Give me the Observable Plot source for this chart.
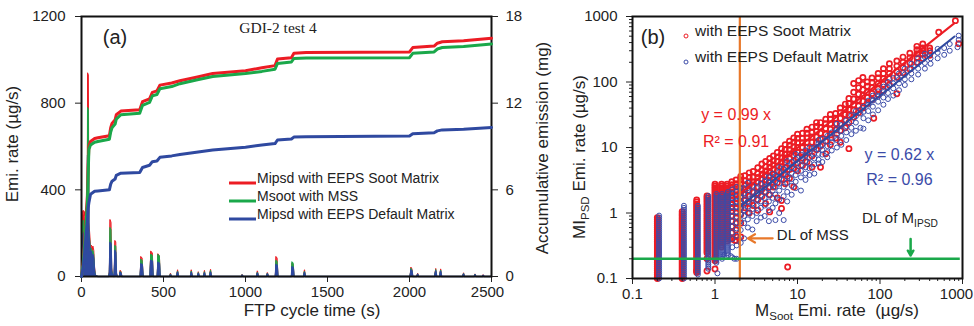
<!DOCTYPE html>
<html><head><meta charset="utf-8">
<script src="https://cdn.jsdelivr.net/npm/d3@7"></script>
<script src="https://cdn.jsdelivr.net/npm/@observablehq/plot@0.6"></script>
<style>
body{margin:0;background:#fff;}
#wrap{position:relative;width:974px;height:326px;overflow:hidden;background:#fff;}
#wrap svg{position:absolute;top:0;overflow:visible;background:transparent;}
</style></head><body><div id="wrap"></div>
<script>
// ---------------- Panel (a) data ----------------
const timeTicks = [0, 500, 1000, 1500, 2000, 2500];
const rateTicks = [0, 400, 800, 1200];
const cumTicks = [0, 6, 12, 18];
const seriesNames = ["Mipsd with EEPS Soot Matrix", "Msoot with MSS", "Mipsd with EEPS Default Matrix"];
// [time s, Mipsd soot matrix, Msoot MSS, Mipsd default matrix] in µg/s
const rateRows = [
  [0,0,0,0],[2,60,40,30],[5,240,200,150],[8,300,250,180],[12,305,260,200],[16,280,230,190],
  [20,300,240,210],[24,260,220,180],[28,290,250,230],[32,200,170,150],[35,120,100,60],
  [37,940,780,560],[42,930,770,555],[45,250,220,200],[50,200,170,140],[55,140,120,110],
  [60,145,130,115],[65,130,110,90],[70,140,120,100],[75,120,100,80],[80,40,30,20],[85,10,8,5],[90,5,4,3],[100,0,0,0],
  [165,0,0,0],[170,20,15,10],[174,263,226,157],[180,250,215,150],[184,40,30,20],[190,10,8,6],[198,0,0,0],
  [200,20,15,10],[204,166,143,120],[209,160,140,110],[213,20,15,10],[218,0,0,0],
  [232,0,0,0],[236,28,22,18],[241,25,20,15],[246,0,0,0],
  [358,0,0,0],[362,92,80,58],[370,85,75,55],[376,0,0,0],
  [418,0,0,0],[422,117,102,74],[432,110,98,70],[437,0,0,0],
  [462,0,0,0],[466,105,102,66],[475,95,95,60],[480,0,0,0],
  [538,0,0,0],[543,15,12,8],[548,0,0,0],
  [580,0,0,0],[586,31,25,20],[592,0,0,0],
  [664,0,0,0],[670,31,25,18],[676,0,0,0],
  [708,0,0,0],[713,22,18,14],[718,0,0,0],
  [745,0,0,0],[750,28,22,16],[755,0,0,0],
  [781,0,0,0],[787,33,28,20],[793,0,0,0],
  [975,0,0,0],[980,9,8,6],[985,0,0,0],
  [1067,0,0,0],[1073,26,20,15],[1079,0,0,0],
  [1128,0,0,0],[1134,18,15,12],[1140,0,0,0],
  [1182,0,0,0],[1186,92,74,55],[1193,85,70,50],[1198,0,0,0],
  [1280,0,0,0],[1284,62,68,45],[1291,55,62,40],[1296,0,0,0],
  [1354,0,0,0],[1360,31,24,18],[1366,0,0,0],
  [2004,0,0,0],[2009,43,38,30],[2015,35,30,25],[2020,0,0,0],
  [2045,0,0,0],[2050,15,12,10],[2055,0,0,0],
  [2154,0,0,0],[2160,37,32,25],[2166,0,0,0],
  [2184,0,0,0],[2190,35,30,24],[2196,0,0,0],
  [2325,0,0,0],[2330,17,14,11],[2335,0,0,0],
  [2395,0,0,0],[2400,12,10,8],[2405,0,0,0],
  [2445,0,0,0],[2450,8,6,5],[2455,0,0,0],[2500,0,0,0]
];
// [time s, cumulative soot-matrix, MSS, default-matrix] in mg
const cumRows = [
  [0,0,0,0],[10,0.9,0.8,0.6],[20,2.6,2.3,1.7],[30,4.6,4.1,3.1],[36,5.6,5.1,3.8],[40,7.5,6.8,4.7],
  [45,9.0,8.8,5.1],[55,9.35,9.1,5.7],[80,9.55,9.3,5.9],[100,9.6,9.35,5.92],[170,9.75,9.5,6.0],
  [178,10.3,10.0,6.4],[186,10.6,10.3,6.6],[205,10.85,10.55,6.75],[212,11.2,10.9,7.0],[240,11.45,11.2,7.15],
  [355,11.55,11.3,7.2],[372,12.1,11.85,7.55],[415,12.3,12.05,7.7],[432,12.75,12.5,7.95],[460,12.85,12.6,8.0],
  [478,13.25,13.0,8.25],[550,13.4,13.15,8.35],[600,13.55,13.35,8.45],[700,13.8,13.6,8.6],[800,14.05,13.85,8.75],
  [1000,14.25,14.05,8.95],[1100,14.45,14.2,9.1],[1180,14.6,14.35,9.2],[1195,15.05,14.75,9.45],[1280,15.15,14.85,9.52],
  [1295,15.45,15.1,9.65],[1370,15.5,15.12,9.68],[2000,15.55,15.15,9.72],[2020,15.85,15.45,9.88],[2150,15.95,15.55,9.95],
  [2170,16.15,15.75,10.08],[2200,16.25,15.85,10.15],[2330,16.32,15.92,10.2],[2500,16.5,16.1,10.32]
];

// ---------------- Panel (b) data ----------------
const logTicks = [0.1, 1, 10, 100, 1000];
const stripeLevels = [0.100,0.107,0.115,0.123,0.132,0.141,0.151,0.162,0.174,0.186,0.200,0.214,0.229,0.245,0.263,0.282,0.302,0.324,0.347,0.372,0.398,0.427,0.457,0.490,0.525,0.562,0.603,0.646,0.692,0.741,0.794,0.851,0.912,0.977,1.05,1.12,1.20,1.29,1.38,1.48,1.58,1.70,1.82,1.95,2.09,2.24,2.40,2.57,2.75,2.95];
// dense vertical columns of quantized MSS values: [x, lowest y, highest y]
const sootStripes = [[0.2,0.1,0.87],[0.4,0.1,1.07],[0.6,0.12,1.67],[0.8,0.24,1.93],[1.0,0.18,2.8],[1.2,0.3,2.8],[1.4,0.35,2.9]];
const defStripes = [[0.21,0.1,0.97],[0.42,0.1,1.35],[0.62,0.11,1.3],[0.83,0.14,1.82],[1.04,0.17,2.0],[1.22,0.2,2.0],[1.43,0.22,2.1]];
const sootExtra = [[0.8,[0.13,0.2]],[0.6,[0.13]],[1.0,[0.14]]];
const sootCloud = [
  [1.6,[0.4,0.5,0.62,0.75,0.9,1.05,1.2,1.4,1.6,1.85,2.1,2.4,2.7,3.0]],
  [1.8,[0.38,0.55,0.7,0.85,1.0,1.2,1.4,1.65,1.9,2.2,2.5,2.8,3.2]],
  [2.05,[0.43,0.7,0.95,1.2,1.5,1.8,2.1,2.4,2.8,3.2,3.6]],
  [1.5,[0.4]],[1.75,[0.38]],[1.86,[0.43]],
  [2.3,[1.2,1.55,1.9,2.3,2.7,3.1,3.7]],
  [2.6,[1.0,1.4,1.8,2.2,2.6,3.0,3.5,4.1]],
  [2.9,[1.3,1.7,2.1,2.5,3.0,3.5,4.3]],
  [3.3,[1.1,1.6,2.0,2.5,3.0,3.5,4.0,4.9]],
  [3.7,[1.8,2.3,2.8,3.3,3.9,4.5,5.6]],
  [4.1,[1.4,2.1,2.7,3.2,3.8,4.4,5.1,6.1]],
  [4.6,[1.04,1.9,2.5,3.1,3.7,4.3,5.0,5.8,6.8]],
  [5.1,[2.5,3.2,3.9,4.6,5.4,6.3,7.4]],
  [5.7,[1.7,2.9,3.6,4.4,5.2,6.1,7.2,8.4]],
  [6.4,[1.17,1.55,3.3,4.2,5.1,6.0,7.0,8.2,9.6]],
  [7.1,[2.8,3.9,4.9,5.9,6.9,8.0,9.3,11]],
  [7.6,[0.15]],
  [8.0,[3.4,4.6,5.7,6.8,8.0,9.3,10.8,12.5]],
  [9.0,[2.5,4.8,6.2,7.5,8.8,10.3,12,14]],
  [10,[4.4,5.8,7.1,8.5,10,11.8,13.8,16]],
  [11.5,[5.3,6.9,8.5,10,11.8,13.8,16.5]],
  [13,[6.0,8.2,10,12,14,16.5,19]],
  [15,[5.0,7.4,9.8,12,14.5,17,20.5]],
  [17,[9.2,11.8,14.5,17.5,21,24]],
  [19,[5.0,10.5,13.5,16.5,20,24]],
  [22,[8.0,12.5,16,19.5,23,27]],
  [25,[11,15.5,19,23,27,32]],
  [29,[14,18.5,23,28,33]],
  [33,[12,18,23,28,34,40]],
  [38,[20,26,32,38,46]],
  [42,[9.6,24,31,38,47,56]],
  [48,[29,37,45,55,70,95]],
  [55,[34,43,53,65,82,105]],
  [62,[40,51,62,76,92,117]],
  [70,[47,58,70,86,100]],
  [80,[54,67,82,98,115]],
  [84,[28]],
  [95,[64,78,95,115,135]],
  [110,[74,92,112,135,160]],
  [130,[90,112,135,160,190]],
  [160,[66,118,145,175,210]],
  [190,[138,165,200,240]],
  [230,[158,195,235,275]],
  [280,[198,235,270,310,350]],
  [330,[228,265,300,330,380]],
  [400,[255,300,330]],
  [515,[575]],[820,[865]],[900,[385]]
];
const defCloud = [
  [1.62,[0.21,0.3,0.4,0.5,0.62,0.75,0.9,1.05,1.25,1.45,1.7,2.0,2.3]],
  [1.83,[0.2,0.32,0.45,0.58,0.72,0.88,1.05,1.25,1.5,1.8,2.1,2.5]],
  [1.3,[0.23]],[1.55,[0.22]],[1.72,[0.2]],[1.07,[0.12]],
  [2.05,[0.35,0.55,0.75,0.95,1.15,1.4,1.7,2.0,2.4]],
  [2.25,[0.41,0.7,0.9,1.1,1.35,1.6,2.0,2.4]],
  [2.5,[0.6,0.8,1.0,1.25,1.5,1.9,2.4,2.9]],
  [2.84,[0.56,0.9,1.15,1.4,1.7,2.1,2.6]],
  [3.2,[0.75,1.0,1.3,1.6,1.95,2.4,2.9]],
  [3.6,[0.85,1.2,1.5,1.85,2.2,2.8]],
  [4.0,[0.9,1.3,1.7,2.1,2.5,3.0,3.6]],
  [4.5,[0.75,1.1,1.5,1.9,2.4,2.9,3.5]],
  [5.0,[1.2,1.7,2.2,2.7,3.3,4.0]],
  [5.4,[0.78,1.4,1.9,2.5,3.0,3.7]],
  [6.0,[1.0,1.6,2.2,2.8,3.4,4.2,5.0]],
  [6.8,[0.78,1.8,2.5,3.2,3.9,4.7]],
  [7.5,[1.5,2.1,2.9,3.6,4.4,5.2,6.2]],
  [8.5,[1.9,2.6,3.3,4.1,5.0,6.0]],
  [9.5,[2.4,3.0,3.8,4.6,5.6,6.7,8.0]],
  [11,[2.2,3.5,4.4,5.3,6.5,7.8]],
  [12.5,[3.2,4.0,5.0,6.2,7.5,9.0]],
  [14,[3.8,4.8,5.8,7.0,8.5,10]],
  [16,[4.0,5.5,6.8,8.2,10]],
  [18,[5.7,6.5,8.0,9.5,11.5,13]],
  [20,[6.0,7.8,9.2,11,13.5]],
  [23,[7.1,8.5,10.5,12.5,15]],
  [26,[9.0,12,14,17]],
  [30,[10,13,16,19,23]],
  [34,[11,15,18,22]],
  [39,[13,17,21,26]],
  [45,[16,20,25,31]],
  [51,[18,24,30,36]],
  [58,[20,33,38]],
  [63,[19.4,28,35,42]],
  [72,[26,36,45,52]],
  [82,[32,42,52,62]],
  [95,[37,50,60,72]],
  [110,[45,58,70,85]],
  [125,[55,68,82,100]],
  [145,[62,80,95,115]],
  [170,[75,95,110,135]],
  [200,[90,110,130,160]],
  [240,[110,135,160,190]],
  [290,[130,160,195,230]],
  [350,[160,195,240,270]],
  [410,[190,230,280]],
  [500,[230,280,320]],
  [600,[260,330]],
  [700,[300,380]],
  [870,[340]],
  [900,[440,510]]
];
const fitSlopes = [0.99, 0.62];
const fitRange = [[1.9, 800], [2.0, 800]];
const fitText = ["y = 0.99 x", "R² = 0.91", "y = 0.62 x", "R² = 0.96"];
const fitTextX = [1.8, 1.8, 172, 172];
const fitTextY = [31, 12, 7.8, 3.15];
const dlMss = 2;         // detection limit of MSS (x)
const dlIpsd = 0.2;      // detection limit of MIPSD (y)
const legendB = ["with EEPS Soot Matrix", "with EEPS Default Matrix"];

// ---------------- styles ----------------
const RED = "#ec1c24", GREEN = "#1aa84a", BLUE = "#2f49a0", BLUE2 = "#3b4ba8", ORANGE = "#e8782a";
const FONT = "'Liberation Sans', Arial, sans-serif";
const wrap = document.getElementById("wrap");

function addText(svg, x, y, parts, o = {}) {
  const size = o.size || 17;
  const t = d3.select(svg).append("text")
    .attr("transform", `translate(${x},${y}) rotate(${o.rotate || 0})`)
    .attr("text-anchor", o.anchor || "middle")
    .attr("dy", "0.35em")
    .attr("font-size", size)
    .attr("font-family", o.family || FONT)
    .attr("fill", o.fill || "#222")
    .style("white-space", "pre");
  let shifted = false;
  for (const p of parts) {
    const [s, sub] = Array.isArray(p) ? p : [p, false];
    let dy = 0;
    if (sub && !shifted) { dy = size * 0.25; shifted = true; }
    else if (!sub && shifted) { dy = -size * 0.25; shifted = false; }
    t.append("tspan").attr("dy", dy).attr("font-size", sub ? size * 0.68 : size).text(s);
  }
  return t;
}

// ---------------- Panel (a) ----------------
const rateData = rateRows.map(([t, s, m, d]) => ({t, s, m, d}));
const cumData = cumRows.map(([t, s, m, d]) => ({t, s, m, d}));
const dimsA = {width: 560, height: 326, marginLeft: 81, marginRight: 69, marginTop: 16, marginBottom: 50};

const pa = Plot.plot({
  ...dimsA,
  style: {fontSize: "15px", fontFamily: FONT, color: "#222", background: "transparent"},
  x: {domain: [0, 2500]},
  y: {domain: [0, 1200]},
  marks: [
    Plot.areaY(rateData, {x: "t", y: "s", fill: RED}),
    Plot.lineY(rateData, {x: "t", y: "s", stroke: RED, strokeWidth: 1}),
    Plot.areaY(rateData, {x: "t", y: "m", fill: GREEN}),
    Plot.lineY(rateData, {x: "t", y: "m", stroke: GREEN, strokeWidth: 1}),
    Plot.areaY(rateData, {x: "t", y: "d", fill: BLUE}),
    Plot.lineY(rateData, {x: "t", y: "d", stroke: BLUE, strokeWidth: 1.5}),
    Plot.axisX({ticks: timeTicks, tickSize: 6, tickPadding: 4, label: null, tickFormat: d => String(d)}),
    Plot.axisY({ticks: rateTicks, tickSize: 6, tickPadding: 10, label: null, tickFormat: d => String(d)}),
    Plot.frame({stroke: "#111", strokeWidth: 2})
  ]
});
pa.style.left = "0px";
wrap.appendChild(pa);
d3.select(pa).selectAll("g[aria-label='x-axis tick label'] text").filter(function() { return this.textContent === "2500"; }).attr("dx", -4);

const pc = Plot.plot({
  ...dimsA,
  style: {fontSize: "15px", fontFamily: FONT, color: "#222", background: "transparent"},
  x: {domain: [0, 2500], axis: null},
  y: {domain: [0, 18]},
  marks: [
    Plot.line(cumData, {x: "t", y: "s", stroke: RED, strokeWidth: 3}),
    Plot.line(cumData, {x: "t", y: "m", stroke: GREEN, strokeWidth: 3}),
    Plot.line(cumData, {x: "t", y: "d", stroke: BLUE, strokeWidth: 3}),
    Plot.axisY({anchor: "right", ticks: cumTicks, tickSize: 6, tickPadding: 8, label: null, tickFormat: d => String(d)})
  ]
});
pc.style.left = "0px";
wrap.appendChild(pc);

addText(pc, 18, 144, ["Emi. rate (µg/s)"], {rotate: -90});
addText(pc, 548, 148, ["Accumulative emission (mg)"], {rotate: -90});
addText(pc, 312, 316, ["FTP cycle time (s)"]);
addText(pc, 115, 44, ["(a)"], {size: 20});
addText(pc, 278, 33, ["GDI-2 test 4"], {size: 15.5, family: "'Liberation Serif', 'Times New Roman', serif"});
const legColors = [RED, GREEN, BLUE];
seriesNames.forEach((name, i) => {
  const y = 183 + i * 18;
  d3.select(pc).append("line").attr("x1", 229).attr("x2", 256).attr("y1", y).attr("y2", y)
    .attr("stroke", legColors[i]).attr("stroke-width", 3);
  addText(pc, 257, y, [name], {size: 14, anchor: "start"});
});

// ---------------- Panel (b) ----------------
const stripePts = (stripes) => stripes.flatMap(([x, lo, hi]) =>
  stripeLevels.filter(y => y >= lo * 0.995 && y <= hi * 1.005).map(y => [x, y]));
const cloudPts = (cloud) => cloud.flatMap(([x, ys]) => ys.map(y => [x, y]));
const sootPts = [...stripePts(sootStripes), ...cloudPts(sootExtra), ...cloudPts(sootCloud)];
const defPts = [...stripePts(defStripes), ...cloudPts(defCloud)];
const fits = fitSlopes.flatMap((k, i) => fitRange[i].map(x => ({x, y: k * x, s: i})));
const minor = [];
for (const dec of [0.1, 1, 10, 100]) for (let k = 2; k <= 9; k++) minor.push(+(k * dec).toPrecision(3));
const labels = fitText.map((t, i) => ({t, x: fitTextX[i], y: fitTextY[i], c: i < 2 ? RED : BLUE2}));

const pb = Plot.plot({
  width: 404, height: 326, marginLeft: 62, marginRight: 12, marginTop: 16, marginBottom: 48,
  style: {fontSize: "15px", fontFamily: FONT, color: "#222", background: "transparent"},
  x: {type: "log", domain: [0.1, 1000]},
  y: {type: "log", domain: [0.1, 1000]},
  marks: [
    Plot.dot(sootPts, {x: d => d[0], y: d => d[1], r: 2.6, stroke: RED, strokeWidth: 1.7}),
    Plot.dot(defPts, {x: d => d[0], y: d => d[1], r: 2.5, stroke: BLUE2, strokeWidth: 1}),
    Plot.line(fits, {x: "x", y: "y", z: "s", stroke: d => d.s === 0 ? RED : BLUE, strokeWidth: 2}),
    Plot.ruleX([dlMss], {stroke: ORANGE, strokeWidth: 2.2}),
    Plot.ruleY([dlIpsd], {x1: 0.1, x2: 940, stroke: GREEN, strokeWidth: 2.5}),
    Plot.arrow([{x1: 5.0, x2: 2.5, y: 0.41}], {x1: "x1", x2: "x2", y1: "y", y2: "y", stroke: ORANGE, strokeWidth: 2.2, headLength: 9}),
    Plot.arrow([{x: 235, y1: 0.4, y2: 0.225}], {x1: "x", x2: "x", y1: "y1", y2: "y2", stroke: GREEN, strokeWidth: 2.5, headLength: 9}),
    Plot.text(labels, {x: "x", y: "y", text: "t", fill: "c", fontSize: 16}),
    Plot.axisX({ticks: minor, tickSize: 3, tickFormat: () => "", label: null}),
    Plot.axisY({ticks: minor, tickSize: 3, tickFormat: () => "", label: null}),
    Plot.axisX({ticks: logTicks, tickSize: 6, tickPadding: 4, label: null, tickFormat: d => String(d)}),
    Plot.axisY({ticks: logTicks, tickSize: 6, tickPadding: 9, label: null, tickFormat: d => String(d)}),
    Plot.frame({stroke: "#111", strokeWidth: 2})
  ]
});
pb.style.left = "570px";
wrap.appendChild(pb);
// keep the last x tick label inside the picture edge
d3.select(pb).selectAll("g[aria-label='x-axis tick label'] text").filter(function() { return this.textContent === "1000"; }).attr("dx", -6);

const sx = pb.scale("x"), sy = pb.scale("y");
addText(pb, 15, 157, ["MI", ["PSD", true], " Emi. rate (µg/s)"], {rotate: -90});
addText(pb, 267, 316, ["M", ["Soot", true], " Emi. rate  (µg/s)"]);
addText(pb, 83, 44, ["(b)"], {size: 20});
addText(pb, sx.apply(5.7), sy.apply(0.38), ["DL of MSS"], {size: 15, anchor: "start"});
addText(pb, sx.apply(177), sy.apply(0.68), ["DL of M", ["IPSD", true]], {size: 15});
[RED, BLUE2].forEach((c, i) => {
  const y = 36 + i * 26;
  d3.select(pb).append("circle").attr("cx", 116).attr("cy", y).attr("r", 2).attr("fill", "none")
    .attr("stroke", c).attr("stroke-width", 1);
  addText(pb, 125, y, [legendB[i]], {size: 15.5, anchor: "start"});
});
</script></body></html>
